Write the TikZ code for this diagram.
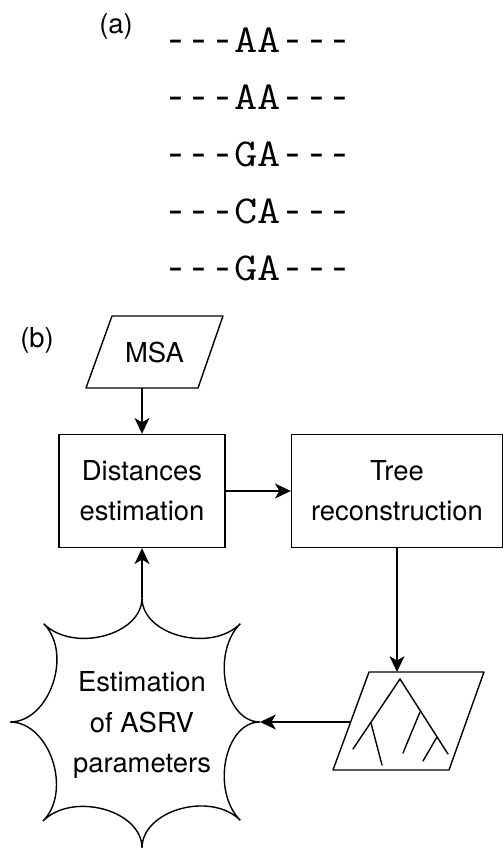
\documentclass[tikz,border=0pt]{standalone}
\usepackage{fontspec}
\setmainfont{TeX Gyre Heros}
\usepackage{graphicx}
\usepackage{tikz}
\usepackage{tkz-euclide}
\usetikzlibrary{arrows.meta,calc}

\newcommand\seqdash{\makebox[0.525em]{\rmfamily-}}
\newcommand\seqgap{\seqdash\seqdash\seqdash}

\tikzset{
  txt/.style={font=\fontsize{15.6}{23}\selectfont,align=center},
  box/.style={txt,draw,line width=0.8pt,minimum height=2.26cm},
  seq/.style={font=\fontsize{22.5}{26}\selectfont\ttfamily},
  flow/.style={line width=0.8pt,-{Stealth[length=9pt,width=8.5pt,inset=2.5pt]}}
}

\begin{document}
\begin{tikzpicture}[x=0.02cm,y=0.02cm,line width=0.8pt]
\useasboundingbox (0,0) rectangle (504,850);

\node[txt] (lbla) at (116,824) {(a)};
\foreach \s [count=\i] in {AA,AA,GA,CA,GA}
  \node[seq] (seq\i) at (258,867-57*\i) {\scalebox{1.14}[1]{\seqgap\s\seqgap}};

\node[txt] (lblb) at (37,510) {(b)};

\tkzDefPoints{86/462/M1,198/462/M2,223/534/M3,112/534/M4}
\tkzDrawPolygon[line width=0.8pt](M1,M2,M3,M4)
\node[txt] (msa) at (154.5,497) {MSA};

\node[box,minimum width=3.32cm] (dist) at (142,359) {Distances\\estimation};
\node[box,minimum width=4.22cm] (tree) at (397,359) {Tree\\reconstruction};

\tkzDefPoints{333/80/T1,449/80/T2,484/178/T3,369/178/T4}
\tkzDrawPolygon[line width=0.8pt](T1,T2,T3,T4)
\tkzDefPoints{400/171/r,353/101/a,448/96/b,371/127/na,382/85/ca,420/138/nb,403/97/cb,437/113/nc,423/89/cc}
\tkzDrawSegments[line width=0.8pt](r,a r,b na,ca nb,cb nc,cc)

\coordinate (burst) at (142,128);
\foreach \a/\r [count=\i] in {90/124,45/139,0/118,-45/139,-90/126,-135/140,180/132,135/139}
  \coordinate (s\i) at ($(burst)+(\a:\r)$);
\draw (s1) foreach \i/\k in {1/2,2/3,3/4,4/5,5/6,6/7,7/8,8/1}
  { .. controls ($(s\i)!.3!(burst)$) and ($(s\k)!.3!(burst)$) .. (s\k) };
\node[txt] (asrv) at (142,125) {Estimation\\of ASRV\\parameters};

\tkzDefPoints{142/462/ma,397/178/tt,351/128/tl}
\draw[flow] (ma) -- (dist);
\draw[flow] (dist) -- (tree);
\draw[flow] (tree) -- (tt);
\draw[flow] (tl) -- (s3);
\draw[flow] (s1) -- (dist);
\end{tikzpicture}
\end{document}
